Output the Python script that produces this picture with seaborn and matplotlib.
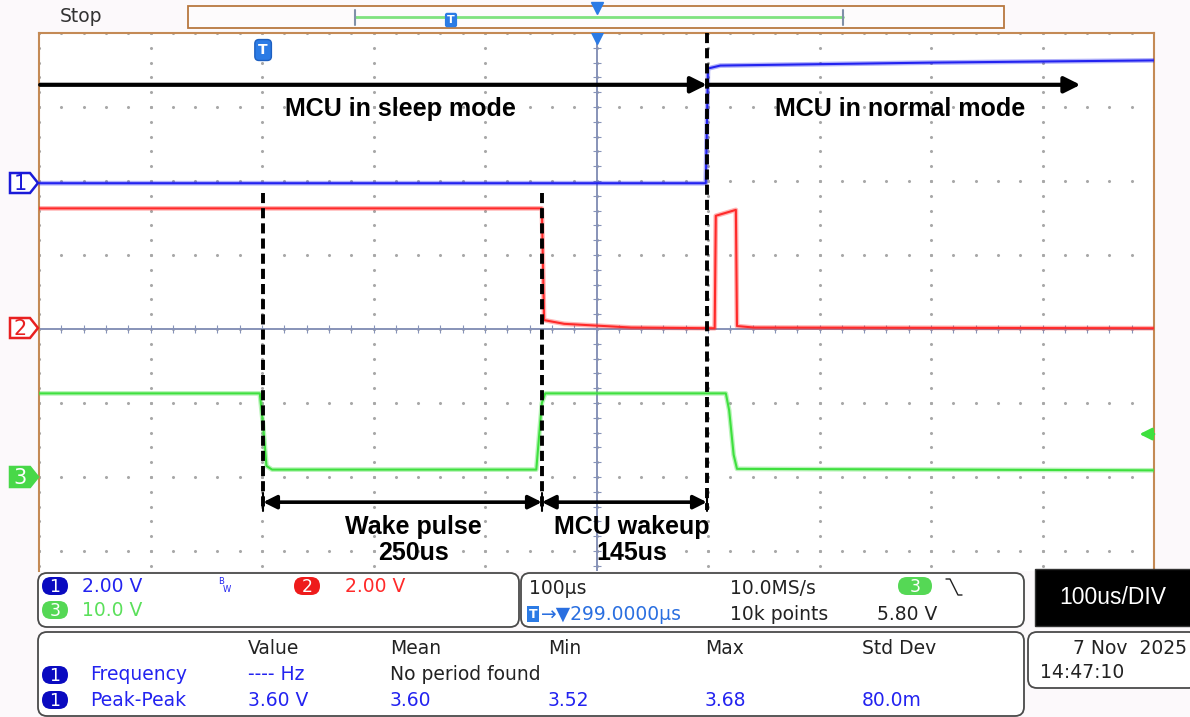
import numpy as np
import pandas as pd
import seaborn as sns
import matplotlib.pyplot as plt
from matplotlib.patches import FancyBboxPatch, Rectangle, Polygon

# time in us after trigger, level in screen divisions (0 = centre row)
ch1_time = [-201, 397, 399, 410, 600, 799]
ch1_level = [1.97, 1.97, 3.52, 3.56, 3.60, 3.63]
ch2_time = [-201, 250, 252, 270, 330, 405, 406, 424, 425, 440, 799]
ch2_level = [1.63, 1.63, 0.12, 0.07, 0.02, 0.01, 1.53, 1.61, 0.04, 0.02, 0.01]
ch3_time = [-201, -3, 0, 3, 8, 245, 250, 253, 415, 418, 422, 425, 799]
ch3_level = [-0.87, -0.87, -1.3, -1.85, -1.90, -1.90, -1.0, -0.87, -0.87, -1.1, -1.7, -1.89, -1.91]
event_time = [0, 250, 398]
trig_level = -1.42

meas_cols = ["Value", "Mean", "Min", "Max", "Std Dev"]
freq_row = ["---- Hz", "No period found"]
pkpk_row = ["3.60 V", "3.60", "3.52", "3.68", "80.0m"]

BLUE, RED, GREEN = "#2323f0", "#ff2a2a", "#3ee03e"
FRAME = "#c48a55"
UIFONT = ["DejaVu Sans"]
BOLD = ["Liberation Sans", "Arial", "DejaVu Sans"]

sns.set_theme(style="white")
plt.rcParams["font.family"] = ["DejaVu Sans"]

W, H = 1190, 717
fig = plt.figure(figsize=(W / 100, H / 100), dpi=100, facecolor="#fcf9fb")
# graticule: 10 x 111.5 px wide, 74 px per vertical division, top at y=33
top, bot, left, right = 33, 571, 39, 1154
ax = fig.add_axes([left / W, 1 - bot / H, (right - left) / W, (bot - top) / H], zorder=2)
ax.set_facecolor("white")
ax.set_xlim(-201, 799)
ax.set_ylim(4 - (bot - top) / 74, 4)
ax.set_xticks([]); ax.set_yticks([])
for s in ["left", "right", "top"]:
    ax.spines[s].set_color(FRAME); ax.spines[s].set_linewidth(1.5)
ax.spines["bottom"].set_visible(False)

# grid dots
major_x = np.arange(-201, 800, 100)
minor_y = np.arange(-3.4, 4.01, 0.2)
major_y = np.arange(4, -3.5, -1)
minor_x = np.arange(-201, 800, 20)
for x in major_x:
    ax.plot([x] * len(minor_y), minor_y, ls="none", marker="o", ms=1.2, color="#a8a8a8", zorder=1)
for y in major_y:
    ax.plot(minor_x, [y] * len(minor_x), ls="none", marker="o", ms=1.2, color="#a8a8a8", zorder=1)
ax.axvline(299, color="#8793b8", lw=1.4, zorder=1)
ax.axhline(0, color="#8793b8", lw=1.4, zorder=1)
ax.plot(minor_x, [0] * len(minor_x), ls="none", marker="|", ms=6, mew=0.8, color="#8793b8")
ax.plot([299] * len(minor_y), minor_y, ls="none", marker="_", ms=6, mew=0.8, color="#8793b8")

# waveforms
for t, v, c in [(ch1_time, ch1_level, BLUE), (ch2_time, ch2_level, RED), (ch3_time, ch3_level, GREEN)]:
    df = pd.DataFrame({"t": t, "v": v})
    sns.lineplot(data=df, x="t", y="v", estimator=None, sort=False, color=c, lw=3.4, alpha=0.35, ax=ax, zorder=3)
    sns.lineplot(data=df, x="t", y="v", estimator=None, sort=False, color=c, lw=1.5, ax=ax, zorder=3)
ax.set_xlabel(""); ax.set_ylabel("")

# annotations
for i, t in enumerate(event_time):
    y0 = 4 if i == 2 else 1.84
    ax.plot([t, t], [y0, -2.45], color="black", lw=2.8, dashes=(2.6, 1.3), zorder=4)
arr = dict(arrowstyle="-|>", lw=3, color="black", mutation_scale=24, shrinkA=0, shrinkB=0)
ax.annotate("", xy=(event_time[2], 3.30), xytext=(-200, 3.30), arrowprops=arr, zorder=4)
ax.annotate("", xy=(733, 3.30), xytext=(event_time[2], 3.30), arrowprops=arr, zorder=4)
arr2 = dict(arrowstyle="<|-|>", lw=2.6, color="black", mutation_scale=20, shrinkA=0, shrinkB=0)
ax.annotate("", xy=(event_time[1], -2.34), xytext=(event_time[0], -2.34), arrowprops=arr2, zorder=4)
ax.annotate("", xy=(event_time[2], -2.34), xytext=(event_time[1], -2.34), arrowprops=arr2, zorder=4)
for t in event_time:
    ax.plot([t, t], [-2.22, -2.46], color="black", lw=1.5, zorder=4)
tk = dict(fontsize=18, fontweight="bold", family=BOLD, ha="center", va="center", color="black", zorder=5)
ax.text(123, 2.97, "MCU in sleep mode", **tk)
ax.text(571, 2.97, "MCU in normal mode", **tk)
ax.text(135, -2.68, "Wake pulse", **tk)
ax.text(135, -3.03, "250us", **tk)
ax.text(331, -2.68, "MCU wakeup", **tk)
ax.text(331, -3.03, "145us", **tk)
ax.text(0, 3.77, "T", color="white", fontsize=10, fontweight="bold", ha="center", va="center",
        bbox=dict(boxstyle="round,pad=0.25,rounding_size=0.3", fc="#2b7be5", ec="#1d5fc0"), zorder=5)
ax.plot([299], [3.95], marker="v", ms=10, color="#2b7be5", ls="none", zorder=5)
ax.annotate("", xy=(786, trig_level), xytext=(799, trig_level),
            arrowprops=dict(arrowstyle="-|>", lw=2, color=GREEN, mutation_scale=18, shrinkA=0, shrinkB=0))

# ---- scope UI overlay in pixel coordinates ----
ui = fig.add_axes([0, 0, 1, 1], zorder=5)
ui.set_xlim(0, W); ui.set_ylim(H, 0); ui.axis("off"); ui.patch.set_alpha(0)

ui.text(60, 17, "Stop", fontsize=13.5, color="#333333", va="center", family=UIFONT)
ui.add_patch(Rectangle((188, 6), 816, 22, fc="#fdfbfc", ec="#b8783f", lw=1.3))
ui.plot([355, 843], [17, 17], color="#7fe27f", lw=2)
ui.plot([355, 355], [10, 25], color="#8090a8", lw=1.5)
ui.plot([843, 843], [10, 25], color="#8090a8", lw=1.5)
ui.text(451, 20, "T", color="white", fontsize=8, fontweight="bold", ha="center", va="center",
        bbox=dict(boxstyle="round,pad=0.2", fc="#2b7be5", ec="none"))
ui.plot([597], [8], marker="v", ms=9, color="#2b7be5")

def chan_tag(y, label, col, filled):
    ui.add_patch(Polygon([(10, y - 10), (30, y - 10), (38, y), (30, y + 10), (10, y + 10)],
                         closed=True, fc=col if filled else "white", ec=col, lw=1.8))
    ui.text(20, y + 1, label, color="white" if filled else col, fontsize=15, ha="center", va="center",
            family=UIFONT)

chan_tag(183, "1", "#1a1ad8", False)
chan_tag(328, "2", "#e82020", False)
chan_tag(477, "3", "#48d848", True)

def panel(x, y, w, h):
    ui.add_patch(FancyBboxPatch((x, y), w, h, boxstyle="round,pad=0,rounding_size=9",
                                fc="white", ec="#4a4a4a", lw=1.3))

def pill(x, y, label, col, w=26, h=18):
    ui.add_patch(FancyBboxPatch((x - w / 2, y - h / 2), w, h, boxstyle="round,pad=0,rounding_size=9",
                                fc=col, ec="none"))
    ui.text(x, y + 1, label, color="white", fontsize=12.5, ha="center", va="center", family=UIFONT)

ft = dict(fontsize=13.5, va="center", family=UIFONT)
panel(38, 573, 481, 54)
pill(55, 586, "1", "#0a0ac0")
ui.text(82, 586, "2.00 V", color=BLUE, **ft)
ui.text(218, 582, "B", color=BLUE, fontsize=6, va="center")
ui.text(223, 590, "W", color=BLUE, fontsize=6, va="center")
pill(307, 586, "2", "#ee1b1b")
ui.text(345, 586, "2.00 V", color=RED, **ft)
pill(55, 610, "3", "#55d855")
ui.text(82, 611, "10.0 V", color="#5be05b", **ft)

panel(521, 573, 503, 54)
ui.text(529, 588, "100µs", color="#222222", **ft)
ui.text(533, 614, "T", color="white", fontsize=9, fontweight="bold", ha="center", va="center",
        bbox=dict(boxstyle="square,pad=0.15", fc="#2b7be5", ec="none"))
ui.text(541, 614, "→▼299.0000µs", color="#2a6fe0", **ft)
ui.text(730, 588, "10.0MS/s", color="#222222", **ft)
ui.text(730, 614, "10k points", color="#222222", **ft)
pill(915, 586, "3", "#55d855", w=34)
ui.plot([946, 950, 958, 962], [579, 579, 595, 595], color="#222222", lw=1)
ui.text(877, 614, "5.80 V", color="#222222", **ft)

ui.add_patch(Rectangle((1035, 569), 160, 57, fc="black", ec="#333333", lw=1))
ui.text(1113, 598, "100us/DIV", color="white", fontsize=16.5, ha="center", va="center", family=BOLD)

panel(38, 632, 986, 84)
for x, lab in zip([248, 390, 548, 705, 862], meas_cols):
    ui.text(x, 648, lab, color="#222222", **ft)
pill(55, 675, "1", "#0a0ac0")
pill(55, 700, "1", "#0a0ac0")
ui.text(90, 675, "Frequency", color=BLUE, **ft)
ui.text(90, 700, "Peak-Peak", color=BLUE, **ft)
ui.text(248, 675, freq_row[0], color=BLUE, **ft)
ui.text(390, 675, freq_row[1], color="#222222", **ft)
for x, val in zip([248, 390, 548, 705, 862], pkpk_row):
    ui.text(x, 700, val, color=BLUE, **ft)

panel(1028, 632, 170, 56)
ui.text(1187, 648, "7 Nov  2025", color="#222222", ha="right", **ft)
ui.text(1040, 673, "14:47:10", color="#222222", **ft)

fig.savefig("out.png", dpi=100, facecolor=fig.get_facecolor())
